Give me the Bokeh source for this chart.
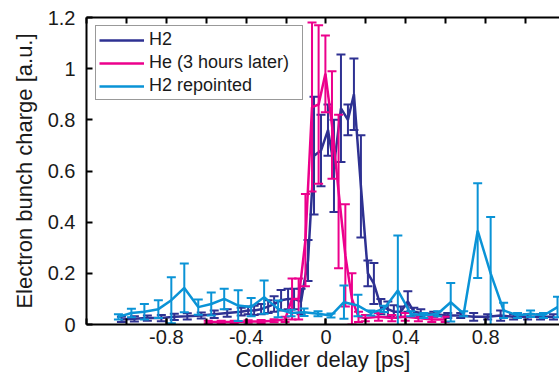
from bokeh.plotting import figure
from bokeh.models import (ColumnDataSource, FixedTicker, LinearAxis, Legend,
                          LegendItem, Range1d)
from bokeh.embed import file_html
from bokeh.resources import INLINE

# ---------------- data ----------------
h2_x = [-1.025, -0.96, -0.895, -0.825, -0.76, -0.695, -0.625, -0.56, -0.495, -0.425,
        -0.39, -0.36, -0.325, -0.29, -0.26, -0.225, -0.19, -0.16, -0.125, -0.09,
        -0.06, -0.025, 0.01, 0.04, 0.075, 0.11, 0.14, 0.175, 0.21, 0.24,
        0.275, 0.31, 0.34, 0.375, 0.41, 0.44, 0.475, 0.54, 0.61, 0.675,
        0.74, 0.81, 0.875, 0.94, 1.01, 1.075, 1.14]
h2_y = [0.02, 0.022, 0.025, 0.025, 0.03, 0.032, 0.035, 0.04, 0.045, 0.05,
        0.055, 0.055, 0.06, 0.07, 0.08, 0.095, 0.1, 0.1, 0.09, 0.25,
        0.66, 0.68, 0.76, 0.62, 0.845, 0.8, 0.9, 0.54, 0.2, 0.16,
        0.07, 0.06, 0.05, 0.05, 0.09, 0.05, 0.045, 0.04, 0.035, 0.035,
        0.03, 0.03, 0.035, 0.03, 0.03, 0.03, 0.03]
h2_err = [0.01, 0.01, 0.01, 0.012, 0.012, 0.012, 0.012, 0.015, 0.015, 0.015,
          0.015, 0.018, 0.02, 0.025, 0.03, 0.04, 0.04, 0.04, 0.05, 0.08,
          0.23, 0.14, 0.1, 0.18, 0.21, 0.06, 0.14, 0.2, 0.05, 0.08,
          0.03, 0.03, 0.025, 0.02, 0.04, 0.015, 0.015, 0.01, 0.01, 0.01,
          0.015, 0.01, 0.02, 0.01, 0.01, 0.01, 0.01]

he_x = [-0.59, -0.525, -0.46, -0.39, -0.325, -0.26, -0.205, -0.17, -0.137, -0.103,
        -0.07, -0.037, -0.003, 0.03, 0.063, 0.097, 0.13, 0.163, 0.197, 0.263,
        0.33, 0.397, 0.463, 0.53, 0.597]
he_y = [0.01, 0.01, 0.01, 0.012, 0.012, 0.015, 0.02, 0.1, 0.1, 0.33,
        0.85, 0.86, 0.98, 0.78, 0.52, 0.27, 0.1, 0.03, 0.025, 0.03,
        0.025, 0.03, 0.025, 0.02, 0.02]
he_err = [0.005, 0.005, 0.005, 0.005, 0.006, 0.006, 0.01, 0.08, 0.08, 0.18,
          0.33, 0.31, 0.15, 0.21, 0.3, 0.2, 0.1, 0.02, 0.012, 0.015,
          0.012, 0.015, 0.012, 0.01, 0.01]

rp_x = [-1.04, -0.975, -0.91, -0.84, -0.775, -0.71, -0.64, -0.575, -0.51, -0.44,
        -0.375, -0.31, -0.24, -0.175, -0.11, -0.04, 0.025, 0.09, 0.16, 0.225,
        0.29, 0.36, 0.425, 0.49, 0.56, 0.625, 0.69, 0.76, 0.825, 0.89,
        0.96, 1.025, 1.09, 1.16]
rp_y = [0.03, 0.045, 0.05, 0.06, 0.095, 0.143, 0.068, 0.08, 0.1, 0.074,
        0.068, 0.107, 0.061, 0.045, 0.048, 0.042, 0.035, 0.087, 0.074, 0.045,
        0.061, 0.133, 0.042, 0.035, 0.042, 0.087, 0.042, 0.367, 0.2, 0.055,
        0.035, 0.042, 0.035, 0.068]
rp_err = [0.01, 0.017, 0.03, 0.035, 0.09, 0.095, 0.03, 0.045, 0.04, 0.06,
          0.036, 0.065, 0.033, 0.013, 0.015, 0.01, 0.008, 0.065, 0.042, 0.01,
          0.012, 0.215, 0.01, 0.01, 0.01, 0.075, 0.01, 0.185, 0.22, 0.03,
          0.01, 0.013, 0.01, 0.04]

series_names = ["H2", "He (3 hours later)", "H2 repointed"]
series_colors = ["#2e3192", "#ec008c", "#0a93d6"]

x_major = [-0.8, -0.4, 0.0, 0.4, 0.8]
x_major_labels = ["-0.8", "-0.4", "0", "0.4", "0.8"]
x_minor = [-1.2, -1.0, -0.8, -0.6, -0.4, -0.2, 0.0, 0.2, 0.4, 0.6, 0.8, 1.0, 1.2]
y_ticks = [0.0, 0.2, 0.4, 0.6, 0.8, 1.0, 1.2]
y_tick_labels = ["0", "0.2", "0.4", "0.6", "0.8", "1", "1.2"]

FONT = "Liberation Sans"

p = figure(width=559, height=377, output_backend="svg", toolbar_location=None,
           x_range=Range1d(-1.2, 1.17), y_range=Range1d(0, 1.2),
           min_border_left=86, min_border_right=0, min_border_top=17,
           min_border_bottom=53)
p.outline_line_color = None
p.xgrid.visible = False
p.ygrid.visible = False
p.background_fill_color = "white"
p.border_fill_color = "white"

def style_axis(ax):
    ax.axis_line_color = "black"
    ax.axis_line_width = 2
    ax.major_tick_line_color = "black"
    ax.major_tick_line_width = 2
    ax.major_tick_in = 6
    ax.major_tick_out = 0
    ax.minor_tick_line_color = "black"
    ax.minor_tick_line_width = 2
    ax.minor_tick_in = 6
    ax.minor_tick_out = 0
    ax.major_label_text_font = FONT
    ax.major_label_text_font_size = "20px"
    ax.major_label_text_color = "#1a1a1a"
    ax.axis_label_text_font = FONT
    ax.axis_label_text_font_size = "22px"
    ax.axis_label_text_font_style = "normal"
    ax.axis_label_text_color = "#1a1a1a"

xa = p.xaxis[0]
xa.ticker = FixedTicker(ticks=x_major, minor_ticks=x_minor)
xa.major_label_overrides = {v: s for v, s in zip(x_major, x_major_labels)}
style_axis(xa)
xa.major_label_standoff = 5
xa.axis_label = "Collider delay [ps]"
xa.axis_label_standoff = 0

ya = p.yaxis[0]
ya.ticker = FixedTicker(ticks=y_ticks)
ya.major_label_overrides = {v: s for v, s in zip(y_ticks, y_tick_labels)}
style_axis(ya)
ya.minor_tick_in = 0
ya.major_label_standoff = 11
ya.axis_label = "Electron bunch charge [a.u.]"
ya.axis_label_standoff = 8

top = LinearAxis(ticker=FixedTicker(ticks=[], minor_ticks=x_minor))
style_axis(top)
top.major_label_standoff = 0
p.add_layout(top, "above")

items = []
for xs, ys, es, name, col in zip([h2_x, he_x, rp_x], [h2_y, he_y, rp_y],
                                 [h2_err, he_err, rp_err], series_names, series_colors):
    up = [y + e for y, e in zip(ys, es)]
    lo = [y - e for y, e in zip(ys, es)]
    src = ColumnDataSource(dict(x=xs, y=ys, up=up, lo=lo))
    p.segment(x0="x", y0="lo", x1="x", y1="up", source=src, line_color=col, line_width=2)
    p.scatter(x="x", y="up", source=src, marker="dash", size=9, line_color=col, line_width=2)
    p.scatter(x="x", y="lo", source=src, marker="dash", size=9, line_color=col, line_width=2)
    r = p.line(x="x", y="y", source=src, line_color=col, line_width=2.5)
    items.append(LegendItem(label=name, renderers=[r]))

legend = Legend(items=items, location=(9, 224))
legend.label_text_font = FONT
legend.label_text_font_size = "18px"
legend.label_text_color = "#1a1a1a"
legend.glyph_width = 45
legend.glyph_height = 20
legend.label_height = 20
legend.label_width = 150
legend.label_standoff = 5
legend.spacing = 2
legend.padding = 3
legend.margin = 0
legend.border_line_color = "#333333"
legend.border_line_width = 1
legend.background_fill_color = "white"
legend.background_fill_alpha = 1
p.add_layout(legend, "center")

open("out.html", "w").write(file_html(p, INLINE))
